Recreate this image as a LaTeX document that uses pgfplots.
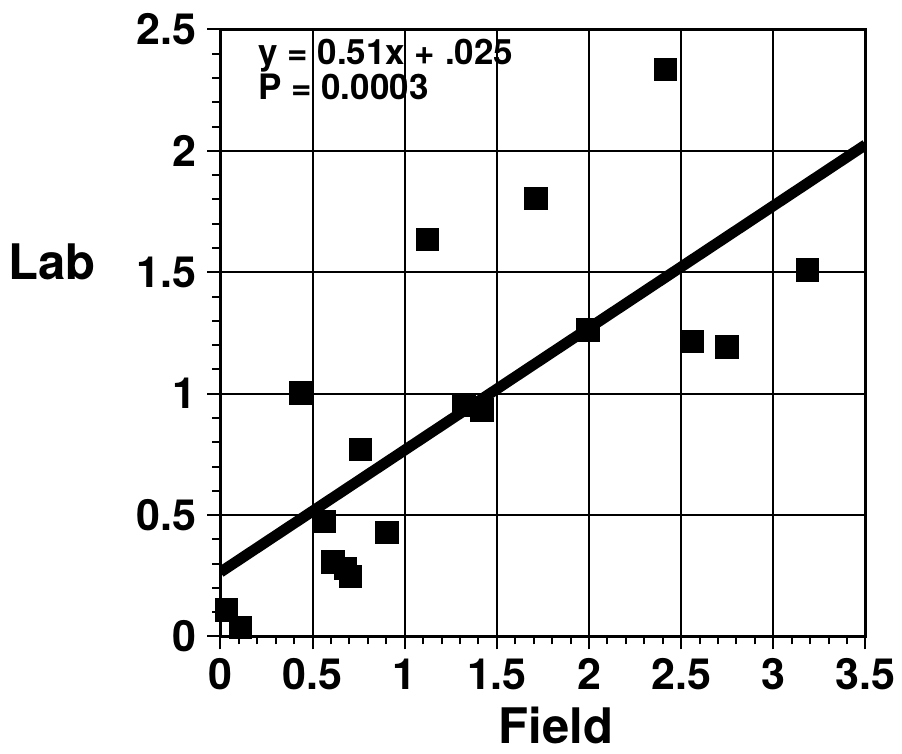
\documentclass[border=0pt]{standalone}
\usepackage{fontspec}
\setmainfont{TeX Gyre Heros}
\usepackage{pgfplots}
\pgfplotsset{compat=1.18}
\begin{document}
\begin{tikzpicture}
\begin{axis}[
  scale only axis,
  width=322.5pt, height=303.5pt,
  xmin=0, xmax=3.5, ymin=0, ymax=2.5,
  xtick={0,0.5,...,3.5}, ytick={0,0.5,...,2.5},
  xticklabels={0,0.5,1,1.5,2,2.5,3,3.5},
  yticklabels={0,0.5,1,1.5,2,2.5},
  minor tick num=4,
  tick align=outside,
  major tick length=6.5pt, minor tick length=4pt,
  every tick/.style={black, line width=1pt},
  xtick pos=bottom, ytick pos=left,
  grid=major,
  major grid style={black, line width=1.1pt},
  axis line style={black, line width=1.5pt},
  /pgf/number format/assume math mode=true,
  ticklabel style={font=\fontsize{21.5}{24}\selectfont\bfseries},
  xticklabel style={yshift=-1pt},
  yticklabel style={xshift=-2pt},
  xlabel={Field}, ylabel={Lab},
  label style={font=\fontsize{24.5}{28}\selectfont\bfseries},
  xlabel style={anchor=base, at={(axis description cs:0.520,-0.176)}},
  ylabel style={rotate=-90, anchor=base, at={(axis description cs:-0.2612,0.5873)}},
  clip=true,
]
\addplot[black, line width=5.4pt, line cap=butt] coordinates {(0,0.265) (3.5,2.025)};
\addplot[only marks, mark=square*, mark size=5.6pt, mark options={black, fill=black, line width=0pt}] coordinates {
(0.033,0.109) (0.109,0.036) (0.434,1.002) (0.565,0.473) (0.610,0.306)
(0.678,0.281) (0.705,0.246) (0.761,0.771) (0.904,0.428) (1.123,1.634)
(1.322,0.954) (1.420,0.933) (1.712,1.805) (1.994,1.263) (2.415,2.334)
(2.559,1.215) (2.749,1.192) (3.186,1.510)};
\node[anchor=base west, inner sep=0pt, font=\fontsize{17.5}{20}\selectfont\bfseries] at (axis cs:0.203,2.355) {y = 0.51x + .025};
\node[anchor=base west, inner sep=0pt, font=\fontsize{17.5}{20}\selectfont\bfseries] at (axis cs:0.203,2.211) {P = 0.0003};
\end{axis}
\path[use as bounding box] (-110.25pt,-58.75pt) rectangle (340.75pt,318.25pt);
\end{tikzpicture}
\end{document}
